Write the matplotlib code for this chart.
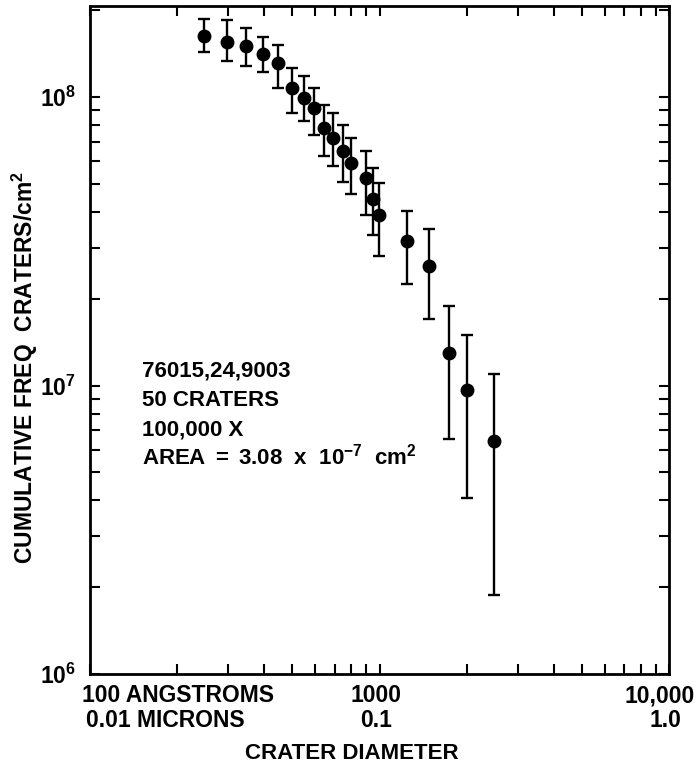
import matplotlib
matplotlib.use("Agg")
import matplotlib.pyplot as plt
import numpy as np

plt.rcParams['font.family'] = ['Liberation Sans', 'DejaVu Sans']
plt.rcParams['font.weight'] = 'bold'
plt.rcParams['mathtext.fontset'] = 'custom'
plt.rcParams['mathtext.rm'] = 'Liberation Sans:bold'
plt.rcParams['mathtext.bf'] = 'Liberation Sans:bold'
plt.rcParams['mathtext.it'] = 'Liberation Sans:bold'
plt.rcParams['mathtext.sf'] = 'Liberation Sans:bold'
plt.rcParams['mathtext.default'] = 'rm'

# crater diameter (Angstroms)
diameter = [248, 297, 347, 397, 446, 499, 548, 595, 645, 692,
            750, 799, 896, 950, 998, 1242, 1486, 1742, 1998, 2492]
# cumulative frequency (craters / cm^2)
freq = [1.63e8, 1.55e8, 1.51e8, 1.41e8, 1.314e8, 1.072e8, 0.992e8, 0.916e8, 0.779e8, 0.723e8,
        0.652e8, 0.59e8, 5.26e7, 4.45e7, 3.91e7, 3.18e7, 2.59e7, 1.30e7, 9.63e6, 6.42e6]
# error bar upper and lower bounds
upper = [1.87e8, 1.85e8, 1.73e8, 1.617e8, 1.513e8, 1.263e8, 1.185e8, 1.072e8, 0.938e8, 0.882e8,
         0.80e8, 0.723e8, 6.50e7, 5.68e7, 5.04e7, 4.04e7, 3.48e7, 1.89e7, 1.50e7, 1.10e7]
lower = [1.43e8, 1.335e8, 1.28e8, 1.218e8, 1.077e8, 0.878e8, 0.826e8, 0.739e8, 0.626e8, 0.577e8,
         0.509e8, 0.462e8, 3.91e7, 3.33e7, 2.81e7, 2.25e7, 1.70e7, 6.54e6, 4.06e6, 1.88e6]

W, H = 698, 763
fig = plt.figure(figsize=(W / 100, H / 100), dpi=100)
ax = fig.add_axes([90 / W, 1 - 674 / H, (669 - 90) / W, (674 - 6) / H])

x = np.array(diameter)
y = np.array(freq)
yerr = [y - np.array(lower), np.array(upper) - y]
ax.errorbar(x, y, yerr=yerr, fmt='o', color='black', ms=9, capsize=4,
            elinewidth=1.7, capthick=1.7)

ax.set_xscale('log')
ax.set_yscale('log')
ax.set_xlim(100, 10000)
ax.set_ylim(1e6, 2.07e8)

for s in ax.spines.values():
    s.set_linewidth(2.0)

ax.tick_params(which='both', direction='in', top=True, right=True,
               length=7, width=1.5)
ax.set_xticks([100, 1000, 10000])
ax.set_xticklabels([])
ax.xaxis.set_minor_formatter(matplotlib.ticker.NullFormatter())

yt = [1e6, 1e7, 1e8]
ax.set_yticks(yt)
ax.set_yticklabels([r'$10^{6}$', r'$10^{7}$', r'$10^{8}$'], fontsize=16.5)
ax.yaxis.set_minor_formatter(matplotlib.ticker.NullFormatter())
ax.tick_params(axis='y', which='major', pad=10)


def ft(px, py, s, **kw):
    fig.text(px / W, 1 - py / H, s, **kw)


fs = 16.5
ft(82, 702, '100 ANGSTROMS', fontsize=fs, ha='left', va='baseline')
ft(86, 727, '0.01 MICRONS', fontsize=fs, ha='left', va='baseline')
ft(376, 702, '1000', fontsize=fs, ha='center', va='baseline')
ft(376, 727, '0.1', fontsize=fs, ha='center', va='baseline')
ft(695, 702, '10,000', fontsize=fs, ha='right', va='baseline')
ft(665, 727, '1.0', fontsize=fs, ha='center', va='baseline')
ft(352, 759, 'CRATER DIAMETER', fontsize=16, ha='center', va='baseline')

ft(25, 367, r'CUMULATIVE FREQ  CRATERS/cm$^{2}$', fontsize=16.5, rotation=90,
   ha='center', va='center')

fa = 16
ft(142, 377, '76015,24,9003', fontsize=fa, ha='left', va='baseline')
ft(142, 406, '50 CRATERS', fontsize=fa, ha='left', va='baseline')
ft(142, 435, '100,000 X', fontsize=fa, ha='left', va='baseline')
ft(142, 464, r'AREA $=$ 3.08  x  10$^{-7}$  cm$^{2}$', fontsize=fa, ha='left', va='baseline')

fig.savefig('out.png', dpi=100)
